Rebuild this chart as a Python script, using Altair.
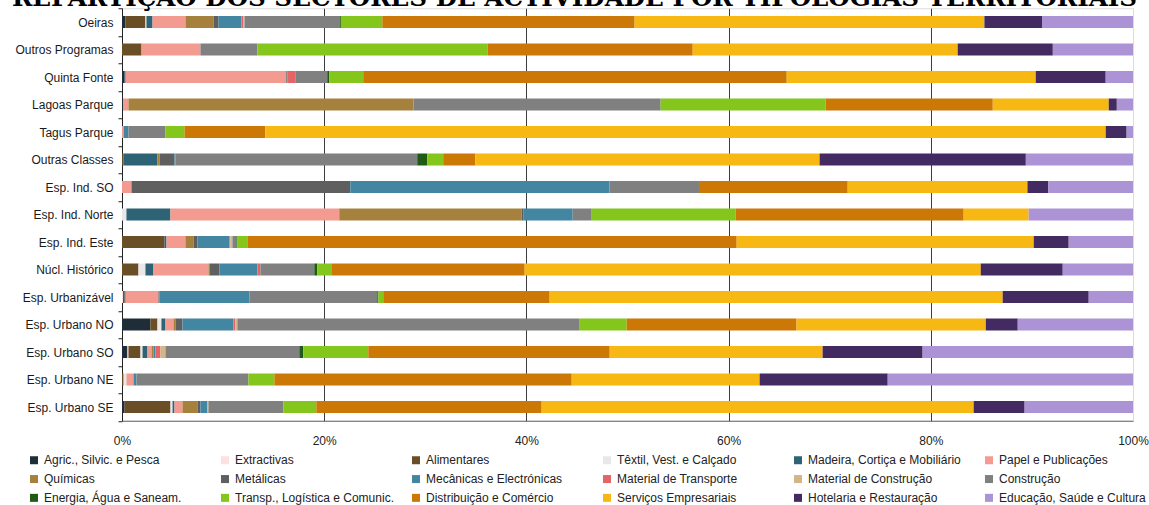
import altair as alt
import pandas as pd

title_text = "REPARTIÇÃO DOS SECTORES DE ACTIVIDADE POR TIPOLOGIAS TERRITORIAIS"

# Territorial typologies, top to bottom
territories = [
    "Oeiras", "Outros Programas", "Quinta Fonte", "Lagoas Parque", "Tagus Parque",
    "Outras Classes", "Esp. Ind. SO", "Esp. Ind. Norte", "Esp. Ind. Este",
    "Núcl. Histórico", "Esp. Urbanizável", "Esp. Urbano NO", "Esp. Urbano SO",
    "Esp. Urbano NE", "Esp. Urbano SE",
]

# Activity sectors, in stacking / legend order
sectors = [
    "Agric., Silvic. e Pesca", "Extractivas", "Alimentares", "Têxtil, Vest. e Calçado",
    "Madeira, Cortiça e Mobiliário", "Papel e Publicações", "Químicas", "Metálicas",
    "Mecânicas e Electrónicas", "Material de Transporte", "Material de Construção",
    "Construção", "Energia, Água e Saneam.", "Transp., Logística e Comunic.",
    "Distribuição e Comércio", "Serviços Empresariais", "Hotelaria e Restauração",
    "Educação, Saúde e Cultura",
]

colors = [
    "#1e2d38", "#fde0e0", "#6a4f26", "#e8e8e8", "#2e6275", "#f39b90",
    "#a6813e", "#5f5f5f", "#4386a1", "#e46565", "#d2b689", "#808080",
    "#1f5b14", "#84c61c", "#cc7806", "#f8b814", "#432b62", "#ab93d5",
]

# Share (%) of each sector, one list per territory, in sector order
oeiras = [0.35, 0, 1.97, 0.1, 0.6, 3.26, 2.77, 0.5, 2.27, 0.2, 0.1, 9.4, 0.13, 4.1, 24.96, 34.6, 5.7, 9.0]
outros_programas = [0, 0, 1.93, 0, 0, 5.83, 0, 0, 0, 0, 0, 5.63, 0, 22.78, 20.28, 26.21, 9.41, 7.93]
quinta_fonte = [0.26, 0, 0, 0, 0.1, 15.89, 0, 0.1, 0, 0.79, 0, 3.16, 0.2, 3.36, 41.89, 24.63, 6.92, 2.7]
lagoas_parque = [0.13, 0, 0, 0, 0, 0.51, 28.2, 0, 0, 0, 0, 24.44, 0, 16.32, 16.53, 11.47, 0.8, 1.6]
tagus_parque = [0, 0, 0, 0, 0, 0.16, 0, 0, 0.48, 0, 0, 3.66, 0, 1.88, 8.0, 83.12, 2.07, 0.63]
outras_classes = [0, 0, 0.16, 0, 3.35, 0, 0.2, 1.48, 0.1, 0, 0, 23.91, 0.99, 1.58, 3.16, 34.07, 20.4, 10.6]
esp_ind_so = [0, 0, 0, 0, 0, 0.94, 0, 21.64, 25.64, 0, 0, 8.85, 0, 0, 14.71, 17.78, 2.07, 8.37]
esp_ind_norte = [0, 0, 0, 0.44, 4.35, 16.7, 18.05, 0.19, 4.85, 0, 0, 1.88, 0, 14.24, 22.55, 6.43, 0, 10.32]
esp_ind_este = [0, 0, 4.2, 0, 0.2, 1.87, 0.8, 0.39, 3.16, 0.1, 0.2, 0.4, 0.1, 0.98, 48.4, 29.38, 3.46, 6.36]
nucl_historico = [0, 0, 1.63, 0.69, 0.79, 5.44, 0.1, 0.98, 3.76, 0.3, 0, 5.33, 0.3, 1.38, 19.13, 45.11, 8.11, 6.95]
esp_urbanizavel = [0, 0.1, 0.16, 0, 0.1, 3.25, 0, 0.1, 8.89, 0, 0, 12.65, 0.1, 0.49, 16.46, 44.81, 8.51, 4.38]
esp_urbano_no = [2.82, 0, 0.69, 0.39, 0.4, 0.79, 0.2, 0.69, 5.04, 0.19, 0.2, 33.86, 0, 4.65, 16.8, 18.72, 3.16, 11.4]
esp_urbano_so = [0.54, 0.1, 1.19, 0.2, 0.49, 0.4, 0.19, 0, 0.2, 0.49, 0.5, 13.24, 0.39, 6.43, 23.88, 21.06, 9.89, 20.81]
esp_urbano_ne = [0, 0, 0.16, 0.28, 0, 0.7, 0, 0, 0.29, 0, 0, 11.07, 0, 2.57, 29.41, 18.59, 12.67, 24.26]
esp_urbano_se = [0.26, 0, 4.54, 0.2, 0.19, 0.79, 1.48, 0.3, 0.69, 0, 0.1, 7.41, 0, 3.26, 22.29, 42.73, 5.04, 10.72]

shares = [
    oeiras, outros_programas, quinta_fonte, lagoas_parque, tagus_parque,
    outras_classes, esp_ind_so, esp_ind_norte, esp_ind_este, nucl_historico,
    esp_urbanizavel, esp_urbano_no, esp_urbano_so, esp_urbano_ne, esp_urbano_se,
]

rows = []
for territory, values in zip(territories, shares):
    for idx, (sector, value) in enumerate(zip(sectors, values)):
        rows.append({"territorio": territory, "sector": sector, "idx": idx, "valor": value})
df = pd.DataFrame(rows)

label_font = "Liberation Sans"

bars = alt.Chart(df).mark_bar(size=12).encode(
    y=alt.Y(
        "territorio:N",
        sort=territories,
        title=None,
        scale=alt.Scale(paddingInner=0, paddingOuter=0),
        axis=alt.Axis(
            tickBand="extent", tickSize=4, tickColor="#222", domainColor="#222",
            labelFont=label_font, labelFontSize=12, labelColor="#1a1a1a",
            labelPadding=5, grid=False,
        ),
    ),
    x=alt.X(
        "valor:Q",
        stack="normalize",
        title=None,
        scale=alt.Scale(domain=[0, 1], nice=False),
        axis=alt.Axis(
            format="%", values=[0, 0.2, 0.4, 0.6, 0.8, 1.0], ticks=False,
            labelFlush=False,
            labelFont=label_font, labelFontSize=12, labelColor="#222",
            labelPadding=15, domainColor="#666",
            gridColor={"condition": {"test": "datum.value >= 1", "value": "#dcdcdc"}, "value": "#3c3c3c"},
            gridWidth=1,
        ),
    ),
    color=alt.Color(
        "sector:N",
        sort=sectors,
        scale=alt.Scale(domain=sectors, range=colors),
        legend=alt.Legend(
            title=None, orient="none", legendX=-94, legendY=446,
            direction="horizontal", columns=6, gridAlign="all",
            symbolType="square", symbolSize=64, symbolStrokeWidth=0,
            labelFont=label_font, labelFontSize=12, labelColor="#222",
            labelOffset=4, columnPadding=16, rowPadding=6.8, labelLimit=200,
        ),
    ),
    order=alt.Order("idx:Q", sort="ascending"),
)

# Heading, set in a heavy serif and partly above the top edge
heading = alt.Chart(pd.DataFrame({"t": [title_text]})).mark_text(
    font="DejaVu Serif", fontWeight="bold", fontSize=24.6, color="#000",
    align="center", baseline="alphabetic",
).encode(
    text="t:N",
    x=alt.value(452.5),
    y=alt.value(-2.0),
)

chart = alt.layer(bars, heading).properties(
    width=1011,
    height=412.5,
    autosize=alt.AutoSizeParams(type="none"),
    padding={"left": 122, "top": 8.25, "right": 16, "bottom": 84.25},
).configure_view(stroke=None).configure(background="white")

chart.save("out.html", embed_options={"renderer": "svg", "actions": False})
